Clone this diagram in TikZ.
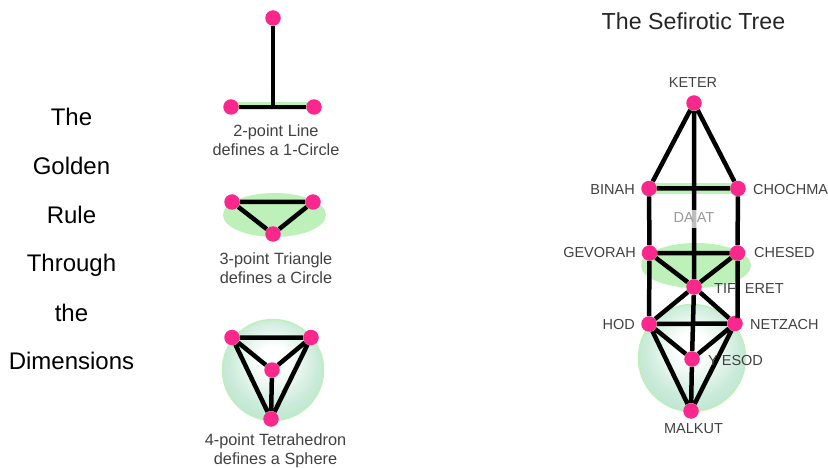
\documentclass[tikz,border=0pt]{standalone}
\usepackage{fontspec}
\setmainfont{Liberation Sans}
\definecolor{pinkdot}{RGB}{250,40,140}
\definecolor{halo}{RGB}{190,240,185}
\definecolor{spheregreen}{RGB}{185,228,205}
\definecolor{labelgrey}{RGB}{65,65,65}
\pgfdeclareradialshading{orbshade}{\pgfpoint{0bp}{6bp}}{color(0bp)=(white); color(7bp)=(white); color(22bp)=(spheregreen!75!white); color(31bp)=(spheregreen); color(50bp)=(spheregreen)}
\tikzset{
  dot/.style={circle,fill=pinkdot,draw=none,minimum size=15.5pt,inner sep=0pt},
  edge/.style={line width=4.5pt,black},
  lab/.style={font=\fontsize{14.5}{17}\selectfont,text=labelgrey,inner sep=0pt},
  capt/.style={font=\fontsize{16.3}{19}\selectfont,text=labelgrey,inner sep=0pt,align=center},
  rulet/.style={font=\fontsize{24}{26}\selectfont,text=black,inner sep=0pt},
  flat/.style={fill=halo,draw=none},
  orb/.style={shading=orbshade,draw=halo,line width=1.5pt}
}
\begin{document}
\begin{tikzpicture}[x=1pt,y=-1pt]
\useasboundingbox (0,0) rectangle (828,468);
% left title
\node[rulet] (r1) at (71.5,117) {The};
\node[rulet] (r2) at (71.5,166) {Golden};
\node[rulet] (r3) at (71.5,215) {Rule};
\node[rulet] (r4) at (71.5,265.5) {Through};
\node[rulet] (r5) at (71.5,313) {the};
\node[rulet] (r6) at (71.5,361) {Dimensions};
% halos
\fill[halo] (231,102.5) rectangle (314,110);
\fill[flat] (274.5,215) ellipse [x radius=51.5,y radius=22];
\shade[orb] (273,370) circle (50.5);
\fill[halo] (649,183.5) rectangle (738,194);
\fill[flat] (696,265.5) ellipse [x radius=55,y radius=22.5];
\shade[orb] (692,358) circle (53.5);
% line figure
\node[dot] (a1) at (273,18) {};
\node[dot] (a2) at (231,107) {};
\node[dot] (a3) at (314,107) {};
\coordinate (a0) at (273,107);
\draw[edge] (a2)--(a3) (a1)--(a0);
\node[capt] (c1) at (276,140.5) {2-point Line\\defines a 1-Circle};
% triangle
\node[dot] (b1) at (232,202) {};
\node[dot] (b2) at (313,202) {};
\node[dot] (b3) at (273,234) {};
\draw[edge] (b1)--(b2)--(b3)--(b1);
\node[capt] (c2) at (276,268) {3-point Triangle\\defines a Circle};
% tetrahedron
\node[dot] (d1) at (232,337.5) {};
\node[dot] (d2) at (311,337.5) {};
\node[dot] (d3) at (272,370) {};
\node[dot] (d4) at (271,419) {};
\draw[edge] (d1)--(d2)--(d4)--(d1) (d1)--(d3)--(d2) (d3)--(d4);
\node[capt] (c3) at (275.5,450.5) {4-point Tetrahedron\\defines a Sphere};
% tree
\node[font=\fontsize{23.2}{26}\selectfont,text=black!85,inner sep=0pt] (title) at (693.5,21) {The Sefirotic Tree};
\node[dot] (ke) at (694,103) {};
\node[dot] (bi) at (649,188.5) {};
\node[dot] (ch) at (738,188.5) {};
\node[dot] (ge) at (649.5,253) {};
\node[dot] (he) at (737.5,253) {};
\node[dot] (ti) at (694,287) {};
\node[dot] (ho) at (649,324) {};
\node[dot] (ne) at (735,323.5) {};
\node[dot] (ye) at (692,359) {};
\node[dot] (ma) at (691,411) {};
\coordinate (nt) at (737.5,318);
\draw[edge] (ke)--(bi) (ke)--(ch) (bi)--(ch) (bi)--(ge) (ch)--(he) (ge)--(ho) (he)--(nt)
  (ge)--(he) (ge)--(ti) (he)--(ti) (ti)--(ho) (ti)--(ne) (ho)--(ne) (ho)--(ye) (ne)--(ye)
  (ho)--(ma) (ne)--(ma) (ye)--(ma) (ke)--(ti) (ti)--(ye);
\fill[white,opacity=.75] (689,210) rectangle (699,228);
\node[lab,anchor=south] (lk) at (693,88) {KETER};
\node[lab,anchor=east] (lb) at (635,190) {BINAH};
\node[lab,anchor=west] (lc) at (753,189.5) {CHOCHMA};
\node[lab,text=black!40] (ld) at (694,218) {DA\kern3ptAT};
\node[lab,anchor=east] (lg) at (636,253) {GEVORAH};
\node[lab,anchor=west] (lh) at (754,253) {CHESED};
\node[lab,anchor=west] (lt) at (714,289) {TIF\kern9ptERET};
\node[lab,anchor=east] (lo) at (635,325) {HOD};
\node[lab,anchor=west] (ln) at (750,325) {NETZACH};
\node[lab,anchor=west] (ly) at (708,361) {Y\kern4ptESOD};
\node[lab] (lm) at (693.5,428.5) {MALKUT};
\end{tikzpicture}
\end{document}
